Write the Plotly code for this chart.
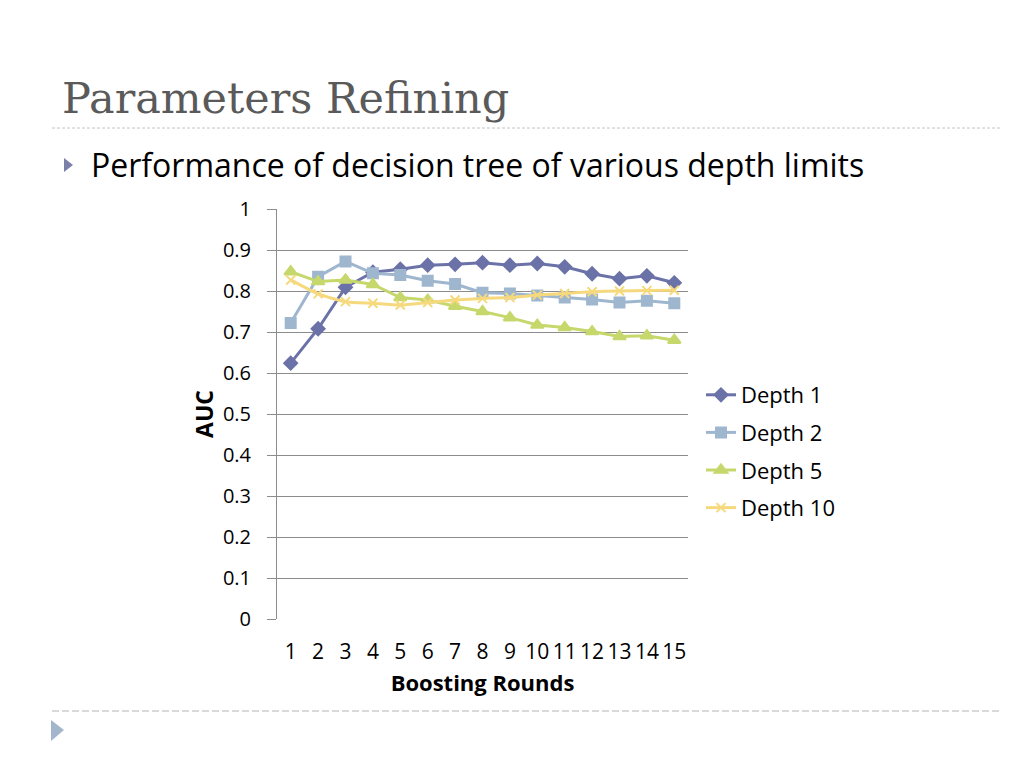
import plotly.graph_objects as go

rounds = [str(i) for i in range(1, 16)]
depth_1 = [0.624, 0.708, 0.809, 0.846, 0.853, 0.863, 0.865, 0.869,
           0.863, 0.867, 0.859, 0.842, 0.830, 0.837, 0.820]
depth_2 = [0.722, 0.835, 0.872, 0.843, 0.839, 0.825, 0.817, 0.796,
           0.794, 0.789, 0.784, 0.779, 0.772, 0.776, 0.770]
depth_5 = [0.847, 0.823, 0.827, 0.816, 0.784, 0.778, 0.763, 0.750,
           0.735, 0.717, 0.711, 0.701, 0.689, 0.691, 0.680]
depth_10 = [0.827, 0.793, 0.774, 0.770, 0.766, 0.772, 0.778, 0.782,
            0.784, 0.790, 0.794, 0.798, 0.800, 0.801, 0.802]
y_ticks = [0, 0.1, 0.2, 0.3, 0.4, 0.5, 0.6, 0.7, 0.8, 0.9, 1]
y_labels = ["0", "0.1", "0.2", "0.3", "0.4", "0.5", "0.6", "0.7", "0.8", "0.9", "1"]

# page body margin pushes the figure 8px right/down
OFF = 8
W, H = 1024 - OFF, 768 - OFF
L, R, T, B = 277 - OFF, 688 - OFF, 209 - OFF, 619 - OFF
BODY = "Open Sans, Lato, sans-serif"


def px(x):
    # screen x -> paper x
    return (x - OFF - L) / (R - L)


def py(y):
    # screen y -> paper y
    return (B - (y - OFF)) / (B - T)


series = [
    ("Depth 1", depth_1, "#6b72a8", "diamond", 10, "linear"),
    ("Depth 2", depth_2, "#9fb6cf", "square", 10, "linear"),
    ("Depth 5", depth_5, "#c6d86c", "triangle-up", 11, "linear"),
    ("Depth 10", depth_10, "#f6d97c", "x-thin", 9, "spline"),
]

fig = go.Figure()
for name, vals, color, sym, size, shape in series:
    fig.add_trace(go.Scatter(
        x=rounds, y=vals, name=name, legendgroup=name, mode="lines+markers",
        line=dict(color=color, width=3, shape=shape, smoothing=0.6),
        marker=dict(symbol=sym, size=size, color=color,
                    line=dict(color=color, width=2))))

fig.update_layout(
    width=W, height=H,
    margin=dict(l=L, r=W - R, t=T, b=H - B),
    plot_bgcolor="white", paper_bgcolor="white",
    font=dict(family=BODY, color="black"),
    showlegend=True,
    legend=dict(x=px(701), y=py(374), xanchor="left", yanchor="top",
                font=dict(size=22), tracegroupgap=6, itemwidth=30,
                bgcolor="rgba(0,0,0,0)"),
    xaxis=dict(type="category", range=[-0.5, 14.5], showgrid=False,
               showline=False, ticks="", tickfont=dict(size=21),
               ticklabelstandoff=18, zeroline=False,
               title=dict(text="<b>Boosting Rounds</b>",
                          font=dict(size=22), standoff=11)),
    yaxis=dict(range=[0, 1], tickvals=y_ticks, ticktext=y_labels,
               showgrid=True, gridcolor="#8c8c8c", gridwidth=1,
               showline=True, linecolor="#8c8c8c", linewidth=1,
               ticks="outside", ticklen=9, tickcolor="#8c8c8c",
               ticklabelstandoff=12,
               tickfont=dict(size=20), zeroline=False,
               title=dict(text="<b>AUC</b>", font=dict(size=23),
                          standoff=2)),
)

# slide title and bullet text
fig.add_annotation(text="Parameters Refining", xref="paper", yref="paper",
                   x=px(60), y=py(98), xanchor="left", yanchor="middle",
                   showarrow=False,
                   font=dict(family="DejaVu Serif, Liberation Serif, serif",
                             size=43, color="#5a5a5a"))
fig.add_annotation(text="Performance of decision tree of various depth limits",
                   xref="paper", yref="paper", x=px(89), y=py(165),
                   xanchor="left", yanchor="middle", showarrow=False,
                   font=dict(family=BODY, size=32, color="black"))

# dashed separators
fig.add_shape(type="line", xref="paper", yref="paper",
              x0=px(52), x1=px(1000), y0=py(128), y1=py(128),
              line=dict(color="#c4c4c4", width=1, dash="3px,2px"))
fig.add_shape(type="line", xref="paper", yref="paper",
              x0=px(52), x1=px(1000), y0=py(711), y1=py(711),
              line=dict(color="#b4b4b4", width=1, dash="7px,3px"))

# bullet triangles
fig.add_shape(type="path", xref="paper", yref="paper",
              path=f"M {px(64)} {py(158)} L {px(73)} {py(165)} L {px(64)} {py(172)} Z",
              fillcolor="#7a80a8", line=dict(width=0))
fig.add_shape(type="path", xref="paper", yref="paper",
              path=f"M {px(51)} {py(720)} L {px(64)} {py(730)} L {px(51)} {py(741)} Z",
              fillcolor="#a3b6cc", line=dict(width=0))

fig.write_html("out.html")
